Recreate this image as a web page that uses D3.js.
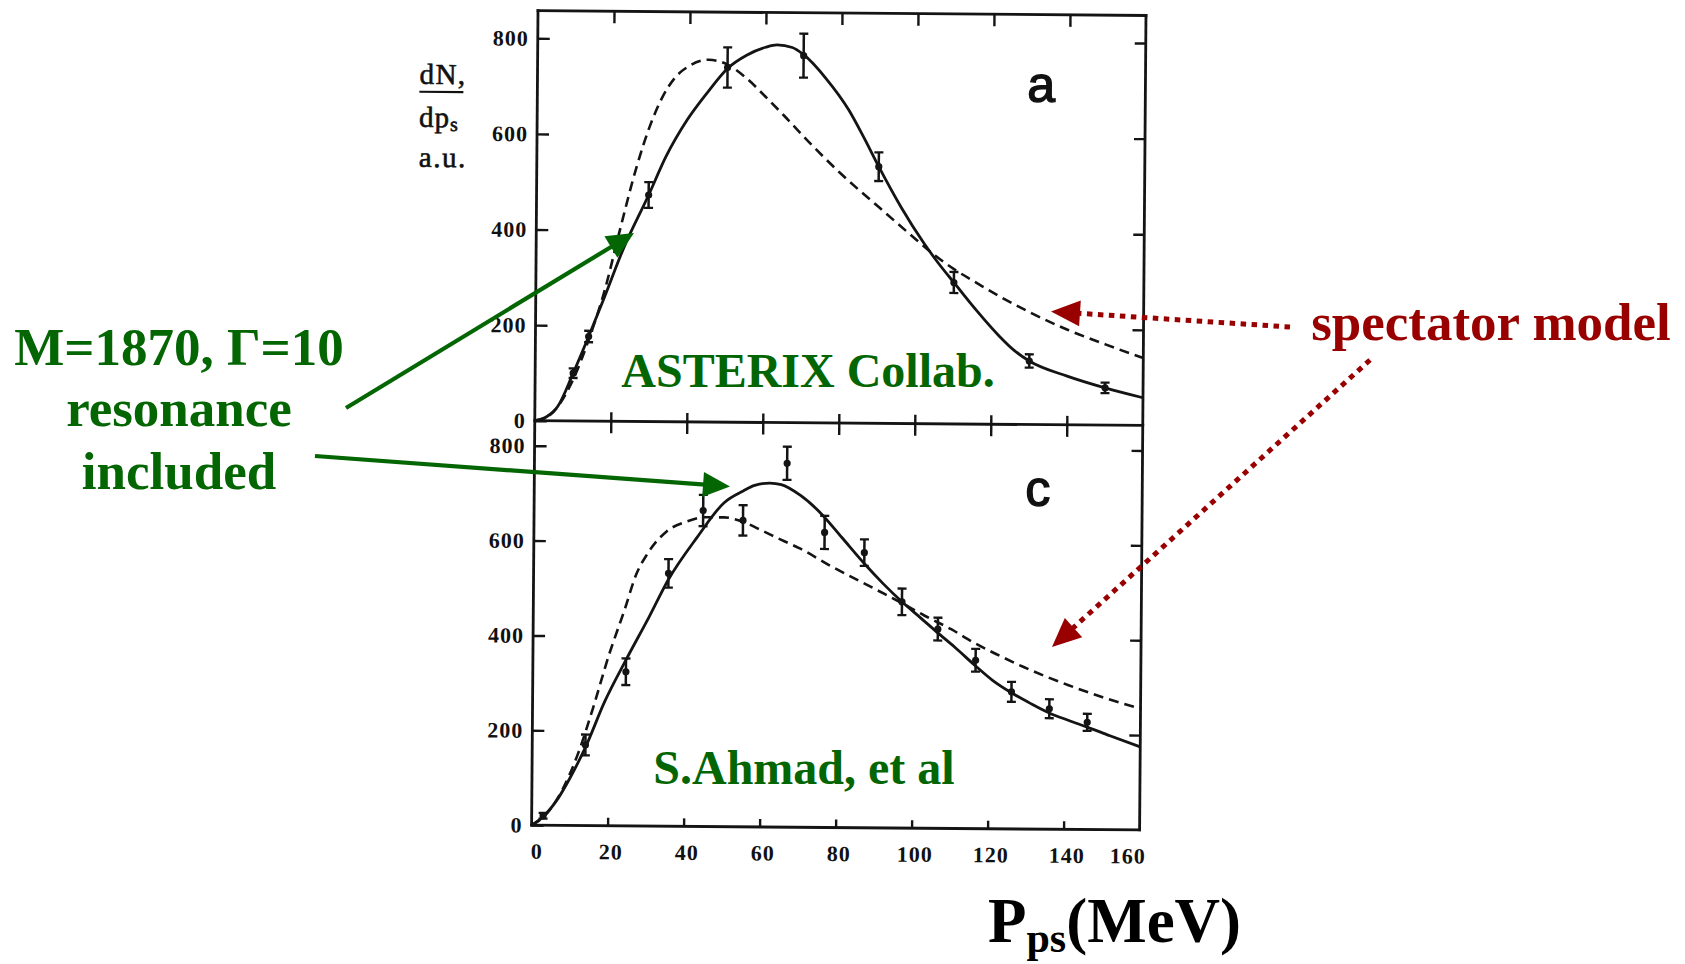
<!DOCTYPE html>
<html>
<head>
<meta charset="utf-8">
<script src="https://cdn.jsdelivr.net/npm/d3@7"></script>
<style>
  html, body { margin: 0; padding: 0; background: #fff; }
  svg { display: block; }
</style>
</head>
<body>
<svg id="chart" width="1685" height="964"></svg>
<script>
// ---------- data: panel (a), ASTERIX ----------
const topPointsP   = [10, 14, 29.5, 50, 70, 90, 110, 130, 150];
const topPointsN   = [100, 177, 474, 742, 768, 537, 296, 133, 78];
const topPointsErr = [10, 12, 27, 42, 46, 30, 22, 14, 11];

// fit with the M=1870, Γ=10 resonance (solid)
const topFitP = [0, 3, 6, 10, 14, 18, 23, 29.5, 34, 39.5, 45, 50, 55, 60, 63, 67, 70, 76, 82, 86, 90, 96, 102, 106, 110, 116, 122, 126, 130, 140, 150, 160];
const topFitN = [0, 8, 30, 100, 177, 258, 362, 474, 555, 632, 692, 740, 768, 785, 790, 785, 770, 720, 655, 598, 537, 452, 378, 335, 296, 238, 185, 155, 133, 102, 78, 58];

// spectator model (dashed)
const topSpecP = [0, 4, 8, 11, 14, 18, 22, 26, 30, 33, 36, 40, 45, 50, 55, 60, 65, 71, 80, 90, 100, 105, 110, 115, 122, 130, 140, 150, 160];
const topSpecN = [0, 12, 55, 105, 170, 270, 400, 525, 625, 680, 718, 745, 758, 748, 720, 682, 642, 592, 522, 453, 385, 352, 324, 300, 268, 235, 199, 169, 141];

// ---------- data: panel (c), S. Ahmad et al. ----------
const botPointsP   = [3, 14, 24.5, 35.5, 44.5, 55, 66.5, 76.5, 87, 97, 106.5, 116.5, 126, 136, 146];
const botPointsN   = [20, 170, 325, 533, 666, 646, 767, 622, 580, 477, 420, 355, 289, 254, 226];
const botPointsErr = [6, 22, 28, 30, 33, 32, 35, 35, 28, 28, 24, 24, 21, 20, 18];

const botFitP = [0, 3, 7, 10, 14, 19, 24.5, 30.5, 35.5, 43, 50, 55, 58, 62, 65, 70, 75.5, 81, 87, 92, 97, 102, 106.5, 111, 116.5, 121, 126, 131, 136, 141, 146, 152, 160];
const botFitN = [0, 18, 58, 100, 165, 262, 350, 441, 520, 610, 683, 708, 720, 725, 722, 700, 662, 612, 557, 515, 477, 443, 412, 382, 343, 313, 287, 265, 245, 230, 216, 198, 175];

const botSpecP = [0, 4, 8, 12, 16, 20, 24, 27, 30, 35, 40, 45, 50, 55, 60, 65, 70, 78, 90, 98, 103, 110, 116, 122, 129, 135, 141, 150, 160];
const botSpecN = [0, 25, 75, 150, 250, 360, 455, 530, 575, 622, 642, 652, 652, 643, 625, 606, 588, 552, 503, 470, 448, 420, 392, 368, 342, 322, 304, 279, 256];

// ---------- ticks ----------
const yTickValues = [0, 200, 400, 600, 800];
const xTickValues = [0, 20, 40, 60, 80, 100, 120, 140, 160];
const xInnerTicks = [20, 40, 60, 80, 100, 120, 140];

// ---------- layout ----------
const frame = { x: 538, y: 10.7, w: 608, mid: 410, bottom: 814.5, tilt: 0.45 };
const ink = "#141414";
const green = "#036603";
const red = "#990000";

const svg = d3.select("#chart");

const x = d3.scaleLinear().domain([0, 160]).range([0, frame.w]);
const yTop = d3.scaleLinear().domain([0, 800]).range([frame.mid, 27.6]);
const yBot = d3.scaleLinear().domain([0, 800]).range([frame.bottom, 435]);

// the two stacked panels share one slightly tilted frame
const g = svg.append("g")
  .attr("transform", `translate(${frame.x},${frame.y}) rotate(${frame.tilt})`);

// frame lines
const frameLines = [
  [[0, 0], [0, frame.bottom]],
  [[frame.w, 0], [frame.w, frame.bottom]],
  [[0, 0], [frame.w, 0]],
  [[0, frame.mid], [frame.w, frame.mid]],
  [[0, frame.bottom], [frame.w, frame.bottom]]
];
g.selectAll("line.frame").data(frameLines).join("line")
  .attr("class", "frame")
  .attr("x1", d => d[0][0]).attr("y1", d => d[0][1])
  .attr("x2", d => d[1][0]).attr("y2", d => d[1][1])
  .attr("stroke", ink).attr("stroke-width", 2.8).attr("stroke-linecap", "square");

function styleAxis(sel) {
  sel.select(".domain").remove();
  sel.selectAll(".tick line").attr("stroke", ink).attr("stroke-width", 2.4);
  sel.selectAll(".tick text")
    .attr("fill", "#111")
    .style("font-family", "'Liberation Serif', 'Times New Roman', serif")
    .style("font-weight", "bold")
    .style("font-size", "22px")
    .style("letter-spacing", "1px");
}

// left axes with labels, ticks pointing inward
[yTop, yBot].forEach(ys => {
  g.append("g")
    .call(d3.axisLeft(ys).tickValues(yTickValues).tickSize(-12).tickPadding(9).tickFormat(d3.format("d")))
    .call(styleAxis);
  g.append("g")
    .attr("transform", `translate(${frame.w},0)`)
    .call(d3.axisRight(ys).tickValues(yTickValues.slice(1)).tickSize(-11).tickFormat(""))
    .call(styleAxis);
});

// top edge ticks
g.append("g")
  .call(d3.axisTop(x).tickValues(xInnerTicks).tickSize(-12).tickFormat(""))
  .call(styleAxis);
// shared middle edge: ticks cross the line
g.append("g")
  .attr("transform", `translate(0,${frame.mid})`)
  .call(d3.axisTop(x).tickValues(xInnerTicks).tickSize(9).tickFormat(""))
  .call(styleAxis);
g.append("g")
  .attr("transform", `translate(0,${frame.mid})`)
  .call(d3.axisBottom(x).tickValues(xInnerTicks).tickSize(12).tickFormat(""))
  .call(styleAxis);
// bottom axis with labels
const xAxisG = g.append("g")
  .attr("transform", `translate(0,${frame.bottom})`)
  .call(d3.axisBottom(x).tickValues(xTickValues).tickSize(-8).tickPadding(18).tickFormat(d3.format("d")))
  .call(styleAxis);
xAxisG.selectAll(".tick text")
  .attr("dx", d => d === 0 ? 5 : (d === 160 ? -12 : 3));
xAxisG.selectAll(".tick line").filter(d => d === 0 || d === 160).remove();

// curves
function drawCurve(ps, ns, ys, dashed) {
  const line = d3.line()
    .x(i => x(ps[i]))
    .y(i => ys(ns[i]))
    .curve(d3.curveMonotoneX);
  g.append("path")
    .attr("d", line(d3.range(ps.length)))
    .attr("fill", "none")
    .attr("stroke", ink)
    .attr("stroke-width", dashed ? 2.6 : 2.8)
    .attr("stroke-dasharray", dashed ? "10,6" : null)
    .attr("stroke-linejoin", "round");
}
drawCurve(topSpecP, topSpecN, yTop, true);
drawCurve(topFitP, topFitN, yTop, false);
drawCurve(botSpecP, botSpecN, yBot, true);
drawCurve(botFitP, botFitN, yBot, false);

// data points with error bars
function drawPoints(ps, ns, es, ys) {
  const pg = g.append("g");
  const idx = d3.range(ps.length);
  pg.selectAll("line.bar").data(idx).join("line")
    .attr("x1", i => x(ps[i])).attr("x2", i => x(ps[i]))
    .attr("y1", i => ys(ns[i] - es[i])).attr("y2", i => ys(ns[i] + es[i]))
    .attr("stroke", ink).attr("stroke-width", 2.5);
  ["lo", "hi"].forEach(side => {
    pg.selectAll("line.cap-" + side).data(idx).join("line")
      .attr("x1", i => x(ps[i]) - 4.5).attr("x2", i => x(ps[i]) + 4.5)
      .attr("y1", i => ys(side === "lo" ? ns[i] - es[i] : ns[i] + es[i]))
      .attr("y2", i => ys(side === "lo" ? ns[i] - es[i] : ns[i] + es[i]))
      .attr("stroke", ink).attr("stroke-width", 2.3);
  });
  pg.selectAll("circle").data(idx).join("circle")
    .attr("cx", i => x(ps[i])).attr("cy", i => ys(ns[i]))
    .attr("r", 3.6).attr("fill", ink);
}
drawPoints(topPointsP, topPointsN, topPointsErr, yTop);
drawPoints(botPointsP, botPointsN, botPointsErr, yBot);

// panel letters
const letterStyle = s => s
  .style("font-family", "'Liberation Sans', Arial, sans-serif")
  .style("font-size", "50px")
  .attr("fill", "#111")
  .attr("stroke", "#111").attr("stroke-width", 1.4);
g.append("text").attr("x", 490).attr("y", 87).text("a").call(letterStyle);
g.append("text").attr("x", 491).attr("y", 491).text("c").call(letterStyle);

// y axis title: dN/dp_s in a.u.
const yTitle = g.append("g")
  .style("font-family", "'Liberation Serif', 'Times New Roman', serif")
  .style("font-size", "29px")
  .attr("fill", "#111")
  .attr("stroke", "#111").attr("stroke-width", 0.6);
yTitle.append("text").attr("x", -118).attr("y", 74).style("letter-spacing", "1.5px").text("dN,");
yTitle.append("line").attr("x1", -118).attr("x2", -74).attr("y1", 82).attr("y2", 82)
  .attr("stroke", "#111").attr("stroke-width", 2.2);
const dps = yTitle.append("text").attr("x", -118).attr("y", 117).style("letter-spacing", "1px");
dps.append("tspan").text("dp");
dps.append("tspan").attr("dy", 4).style("font-size", "20px").text("s");
yTitle.append("text").attr("x", -118).attr("y", 157).style("letter-spacing", "1.5px").text("a.u.");

// ---------- annotations ----------
const bold = s => s
  .style("font-family", "'Liberation Serif', 'Times New Roman', serif")
  .style("font-weight", "bold");

svg.append("text").attr("x", 808).attr("y", 387).attr("text-anchor", "middle")
  .attr("fill", green).style("font-size", "48px").call(bold).text("ASTERIX Collab.");
svg.append("text").attr("x", 804).attr("y", 784).attr("text-anchor", "middle")
  .attr("fill", green).style("font-size", "48px").call(bold).text("S.Ahmad, et al");

const resLines = [["M=1870, Γ=10", 365], ["resonance", 426], ["included", 489]];
svg.selectAll("text.res").data(resLines).join("text")
  .attr("class", "res")
  .attr("x", 179).attr("y", d => d[1]).attr("text-anchor", "middle")
  .attr("fill", green).style("font-size", "53px").call(bold)
  .text(d => d[0]);

svg.append("text").attr("x", 1491).attr("y", 340).attr("text-anchor", "middle")
  .attr("fill", red).style("font-size", "53px").call(bold).text("spectator model");

const xTitle = svg.append("text").attr("x", 988).attr("y", 942)
  .attr("fill", "#000").style("font-size", "63px").call(bold);
xTitle.append("tspan").text("P");
xTitle.append("tspan").attr("dy", 10).style("font-size", "42px").text("ps");
xTitle.append("tspan").attr("dy", -10).text("(MeV)");

// arrows: straight shaft + triangular head
function arrow(tail, tip, color, dotted) {
  const dx = tip[0] - tail[0], dy = tip[1] - tail[1];
  const len = Math.hypot(dx, dy);
  const ux = dx / len, uy = dy / len;
  const headLen = dotted ? 29 : 27, half = dotted ? 13 : 12.5;
  const base = [tip[0] - ux * headLen, tip[1] - uy * headLen];
  svg.append("line")
    .attr("x1", tail[0]).attr("y1", tail[1])
    .attr("x2", base[0] + ux * 2).attr("y2", base[1] + uy * 2)
    .attr("stroke", color).attr("stroke-width", dotted ? 5 : 4.2)
    .attr("stroke-dasharray", dotted ? "5.5,5.5" : null);
  svg.append("polygon")
    .attr("points", [
      tip,
      [base[0] - uy * half, base[1] + ux * half],
      [base[0] + uy * half, base[1] - ux * half]
    ].map(p => p.join(",")).join(" "))
    .attr("fill", color);
}
arrow([346, 408], [634, 233], green, false);
arrow([315, 456], [730, 486.5], green, false);
arrow([1290, 327], [1051, 311.5], red, true);
arrow([1370, 360], [1052, 647], red, true);
</script>
</body>
</html>
